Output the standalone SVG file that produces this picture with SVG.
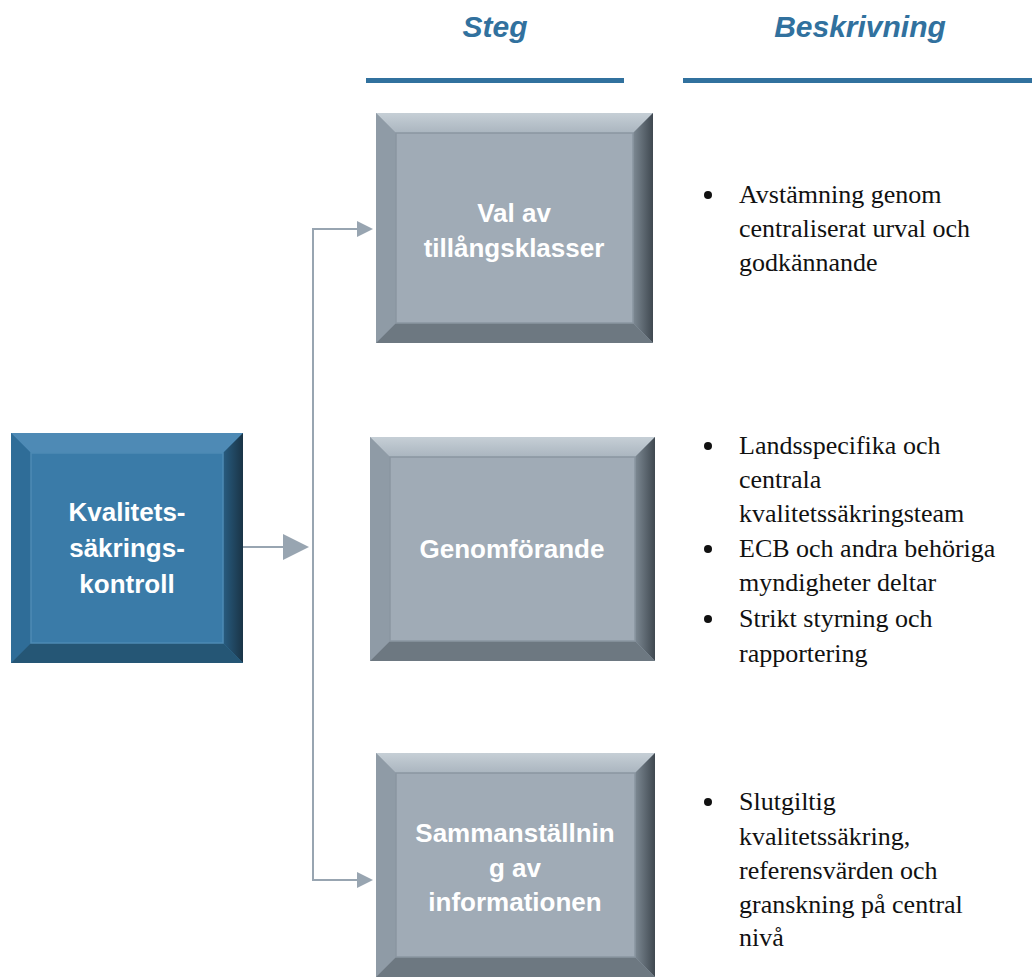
<svg xmlns="http://www.w3.org/2000/svg" width="1032" height="979" viewBox="0 0 1032 979">
<style>
.hdr{font-weight:bold;font-style:italic;font-size:30px;fill:#31719e;text-anchor:middle}
.lbl{font-weight:bold;font-size:26px;fill:#ffffff;text-anchor:middle}
.desc{font-size:26px;fill:#111111}
.conn{stroke:#98a5b1;stroke-width:2;fill:none}
.ah{fill:#98a5b1}
.g-face{fill:#a0abb6}.g-top{fill:url(#gt)}.g-left{fill:#8f9ba6}.g-right{fill:url(#gr)}.g-bot{fill:#6d7881}
.b-face{fill:#3a7ba8}.b-top{fill:#4e8ab5}.b-left{fill:#2f6d98}.b-right{fill:url(#br)}.b-bot{fill:#255675}
.inner{fill:none;stroke-width:1.5}
</style>
<defs>
<linearGradient id="gt" x1="0" y1="0" x2="0" y2="1"><stop offset="0" stop-color="#c6cfd6"/><stop offset="1" stop-color="#aab5bf"/></linearGradient>
<linearGradient id="gr" x1="0" y1="0" x2="1" y2="0"><stop offset="0" stop-color="#7d8993"/><stop offset="1" stop-color="#3f4850"/></linearGradient>
<linearGradient id="br" x1="0" y1="0" x2="1" y2="0"><stop offset="0" stop-color="#285c80"/><stop offset="1" stop-color="#1a3446"/></linearGradient>
</defs>
<rect width="1032" height="979" fill="#ffffff"/>

<g id="headers" font-family="Liberation Sans, Arial, sans-serif">
<text class="hdr" x="495" y="37">Steg</text>
<text class="hdr" x="860" y="37">Beskrivning</text>
<rect x="366" y="78" width="258" height="5" fill="#31719e"/>
<rect x="683" y="78" width="349" height="5" fill="#31719e"/>
</g>

<g id="connectors">
<line class="conn" x1="243" y1="547" x2="284" y2="547"/>
<polygon class="ah" points="283,534 309,547 283,560"/>
<polyline class="conn" points="360,229 313,229 313,880 360,880"/>
<polygon class="ah" points="357,221 373,229 357,237"/>
<polygon class="ah" points="357,872 373,880 357,888"/>
</g>

<g id="node-kontroll" font-family="Liberation Sans, Arial, sans-serif">
<rect x="11" y="433" width="232" height="230" class="b-face"/>
<polygon class="b-top" points="11,433 243,433 223,453 31,453"/>
<polygon class="b-left" points="11,433 31,453 31,643 11,663"/>
<polygon class="b-right" points="243,433 243,663 223,643 223,453"/>
<polygon class="b-bot" points="11,663 31,643 223,643 243,663"/>
<rect x="31" y="453" width="192" height="190" class="inner" stroke="#4d8ab4"/>
<text class="lbl" x="127" y="521">Kvalitets-</text>
<text class="lbl" x="127" y="557">säkrings-</text>
<text class="lbl" x="127" y="593">kontroll</text>
</g>

<g id="node-val" font-family="Liberation Sans, Arial, sans-serif">
<rect x="376" y="113" width="277" height="230" class="g-face"/>
<polygon class="g-top" points="376,113 653,113 633,133 396,133"/>
<polygon class="g-left" points="376,113 396,133 396,323 376,343"/>
<polygon class="g-right" points="653,113 653,343 633,323 633,133"/>
<polygon class="g-bot" points="376,343 396,323 633,323 653,343"/>
<rect x="396" y="133" width="237" height="190" class="inner" stroke="#8a96a1"/>
<text class="lbl" x="514" y="222">Val av</text>
<text class="lbl" x="514" y="257">tillångsklasser</text>
</g>

<g id="node-genomforande" font-family="Liberation Sans, Arial, sans-serif">
<rect x="370" y="437" width="285" height="224" class="g-face"/>
<polygon class="g-top" points="370,437 655,437 635,457 390,457"/>
<polygon class="g-left" points="370,437 390,457 390,641 370,661"/>
<polygon class="g-right" points="655,437 655,661 635,641 635,457"/>
<polygon class="g-bot" points="370,661 390,641 635,641 655,661"/>
<rect x="390" y="457" width="245" height="184" class="inner" stroke="#8a96a1"/>
<text class="lbl" x="512" y="558">Genomförande</text>
</g>

<g id="node-sammanstallning" font-family="Liberation Sans, Arial, sans-serif">
<rect x="376" y="753" width="279" height="224" class="g-face"/>
<polygon class="g-top" points="376,753 655,753 635,773 396,773"/>
<polygon class="g-left" points="376,753 396,773 396,957 376,977"/>
<polygon class="g-right" points="655,753 655,977 635,957 635,773"/>
<polygon class="g-bot" points="376,977 396,957 635,957 655,977"/>
<rect x="396" y="773" width="239" height="184" class="inner" stroke="#8a96a1"/>
<text class="lbl" x="515" y="842">Sammanställnin</text>
<text class="lbl" x="515" y="877">g av</text>
<text class="lbl" x="515" y="911">informationen</text>
</g>

<g id="desc-1" font-family="Liberation Serif, Times New Roman, serif">
<circle cx="708" cy="195" r="4" fill="#111"/>
<text class="desc" x="739" y="203">Avstämning genom</text>
<text class="desc" x="739" y="237">centraliserat urval och</text>
<text class="desc" x="739" y="271">godkännande</text>
</g>

<g id="desc-2" font-family="Liberation Serif, Times New Roman, serif">
<circle cx="708" cy="446" r="4" fill="#111"/>
<text class="desc" x="739" y="454">Landsspecifika och</text>
<text class="desc" x="739" y="488">centrala</text>
<text class="desc" x="739" y="522">kvalitetssäkringsteam</text>
<circle cx="708" cy="549" r="4" fill="#111"/>
<text class="desc" x="739" y="557">ECB och andra behöriga</text>
<text class="desc" x="739" y="591">myndigheter deltar</text>
<circle cx="708" cy="619" r="4" fill="#111"/>
<text class="desc" x="739" y="627">Strikt styrning och</text>
<text class="desc" x="739" y="662">rapportering</text>
</g>

<g id="desc-3" font-family="Liberation Serif, Times New Roman, serif">
<circle cx="708" cy="802" r="4" fill="#111"/>
<text class="desc" x="739" y="810">Slutgiltig</text>
<text class="desc" x="739" y="845">kvalitetssäkring,</text>
<text class="desc" x="739" y="879">referensvärden och</text>
<text class="desc" x="739" y="913">granskning på central</text>
<text class="desc" x="739" y="946">nivå</text>
</g>
</svg>
